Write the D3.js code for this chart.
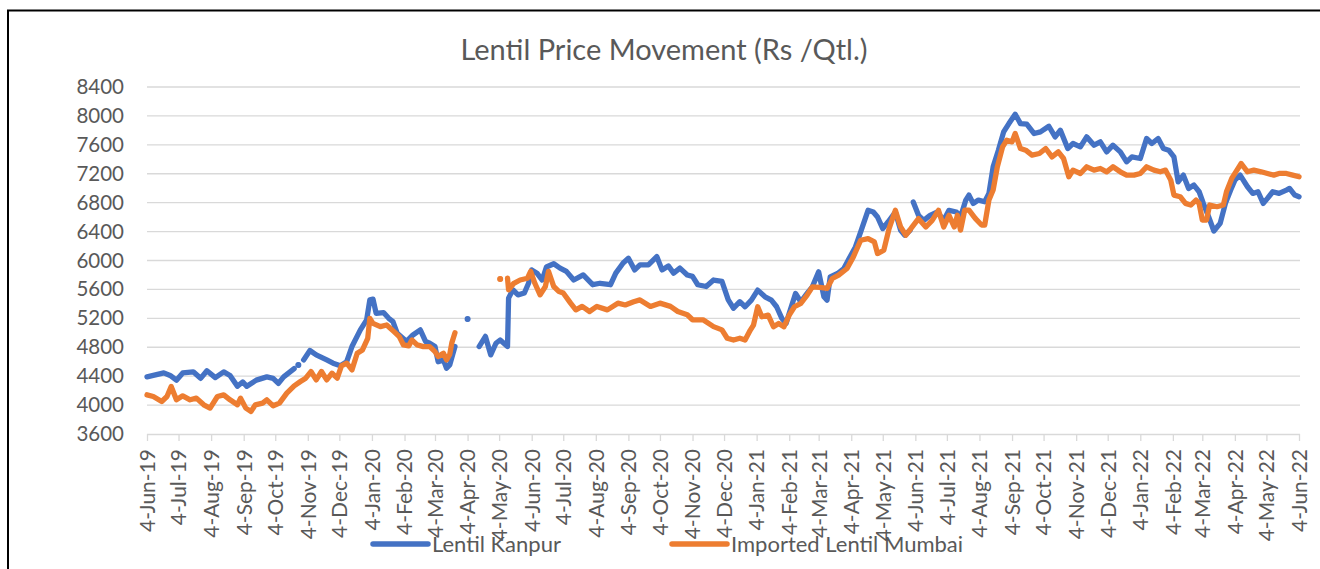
<!DOCTYPE html>
<html><head><meta charset="utf-8">
<script src="https://cdn.jsdelivr.net/npm/d3@7"></script>
<style>
html,body{margin:0;padding:0;background:#fff;}
svg{display:block;}
text{font-family:Lato,"Open Sans",sans-serif;fill:#595959;}
</style></head>
<body>
<svg id="chart" width="1320" height="569"></svg>
<script>
const title = "Lentil Price Movement (Rs /Qtl.)";
const seriesNames = ["Lentil Kanpur", "Imported Lentil Mumbai"];
const yTicks = [3600,4000,4400,4800,5200,5600,6000,6400,6800,7200,7600,8000,8400];
const xTickDates = ["2019-06-04","2019-07-04","2019-08-04","2019-09-04","2019-10-04","2019-11-04","2019-12-04",
 "2020-01-04","2020-02-04","2020-03-04","2020-04-04","2020-05-04","2020-06-04","2020-07-04","2020-08-04","2020-09-04","2020-10-04","2020-11-04","2020-12-04",
 "2021-01-04","2021-02-04","2021-03-04","2021-04-04","2021-05-04","2021-06-04","2021-07-04","2021-08-04","2021-09-04","2021-10-04","2021-11-04","2021-12-04",
 "2022-01-04","2022-02-04","2022-03-04","2022-04-04","2022-05-04","2022-06-04"];

const kanpurDates = ["2019-06-04","2019-06-10","2019-06-20","2019-06-26","2019-07-02","2019-07-08","2019-07-18","2019-07-25","2019-07-31","2019-08-08","2019-08-16","2019-08-22","2019-08-29","2019-09-03","2019-09-07","2019-09-16","2019-09-26","2019-10-02","2019-10-07","2019-10-12","2019-10-22","2019-10-24","2019-10-26","2019-10-28","2019-10-31","2019-11-06","2019-11-12","2019-11-22","2019-11-28","2019-12-05","2019-12-11","2019-12-16","2019-12-24","2019-12-30",
"2020-01-02","2020-01-05","2020-01-08","2020-01-15","2020-01-20","2020-01-24","2020-01-28","2020-02-06","2020-02-12","2020-02-19","2020-02-24","2020-02-28","2020-03-04","2020-03-07","2020-03-12","2020-03-15","2020-03-18","2020-03-23","2020-03-28","2020-04-04","2020-04-09","2020-04-15","2020-04-21","2020-04-26","2020-05-01","2020-05-05","2020-05-12","2020-05-13","2020-05-17","2020-05-22","2020-05-28","2020-06-01","2020-06-04","2020-06-09","2020-06-14","2020-06-18","2020-06-25","2020-07-01","2020-07-07","2020-07-14","2020-07-23","2020-08-01","2020-08-08","2020-08-18","2020-08-23","2020-08-30","2020-09-04","2020-09-10","2020-09-15","2020-09-23","2020-10-01","2020-10-06","2020-10-12","2020-10-17","2020-10-23","2020-10-30","2020-11-04","2020-11-09","2020-11-17","2020-11-24","2020-12-02","2020-12-08","2020-12-13","2020-12-19","2020-12-24","2020-12-30",
"2021-01-05","2021-01-12","2021-01-18","2021-01-23","2021-01-28","2021-02-01","2021-02-05","2021-02-10","2021-02-15","2021-02-21","2021-02-26","2021-03-04","2021-03-09","2021-03-12","2021-03-15","2021-03-22","2021-03-28","2021-04-02","2021-04-08","2021-04-13","2021-04-20","2021-04-25","2021-04-29","2021-05-04","2021-05-09","2021-05-16","2021-05-21","2021-05-25","2021-05-30","2021-05-31","2021-06-02","2021-06-07","2021-06-12","2021-06-18","2021-06-25","2021-07-01","2021-07-06","2021-07-13","2021-07-17","2021-07-22","2021-07-25","2021-07-29","2021-08-03","2021-08-09","2021-08-13","2021-08-17","2021-08-22","2021-08-27","2021-09-01","2021-09-07","2021-09-12","2021-09-18","2021-09-25","2021-10-01","2021-10-09","2021-10-15","2021-10-20","2021-10-27","2021-11-01","2021-11-08","2021-11-14","2021-11-21","2021-11-27","2021-12-03","2021-12-09","2021-12-16","2021-12-22","2021-12-27",
"2022-01-04","2022-01-10","2022-01-15","2022-01-21","2022-01-26","2022-01-31","2022-02-05","2022-02-09","2022-02-14","2022-02-19","2022-02-24","2022-03-01","2022-03-05","2022-03-10","2022-03-15","2022-03-21","2022-03-26","2022-03-31","2022-04-04","2022-04-09","2022-04-16","2022-04-21","2022-04-26","2022-05-01","2022-05-05","2022-05-10","2022-05-16","2022-05-23","2022-05-26","2022-05-31","2022-06-04"];
const kanpurValues = [4390,4410,4445,4410,4345,4445,4460,4370,4475,4380,4460,4410,4260,4320,4260,4345,4390,4370,4300,4390,4505,null,4555,null,4625,4755,4695,4625,4580,4545,4600,4810,5040,5180,
5455,5465,5270,5280,5200,5155,4995,4880,4970,5040,4880,4855,4810,4600,4625,4510,4555,4810,null,5190,null,4810,4950,4695,4855,4900,4810,5480,5595,5525,5550,5685,5870,5825,5730,5910,5955,5895,5850,5730,5800,5665,5685,5665,5825,5965,6030,5870,5940,5940,6055,5870,5925,5825,5895,5800,5780,5665,5640,5730,5710,5455,5340,5430,5360,5452,
5590,5498,5452,5360,5200,5130,5314,5544,5429,5544,5636,5843,5498,5452,5774,5820,5889,6027,6188,6395,6694,6671,6602,6441,6533,6671,6418,6349,6418,null,6809,6625,6556,6625,6671,6556,6694,6671,6600,6836,6905,6790,6836,6813,6928,7296,7526,7779,7894,8023,7894,7885,7756,7779,7857,7710,7802,7549,7618,7572,7710,7595,7641,7503,7595,7503,7365,7434,
7411,7687,7618,7687,7549,7526,7434,7089,7181,6997,7043,6951,6790,6606,6408,6514,6790,6974,7112,7181,7020,6928,6951,6790,6859,6951,6928,6974,6997,6905,6882];

const mumbaiDates = ["2019-06-04","2019-06-10","2019-06-18","2019-06-23","2019-06-27","2019-07-02","2019-07-08","2019-07-15","2019-07-21","2019-07-28","2019-08-03","2019-08-10","2019-08-16","2019-08-22","2019-08-29","2019-09-01","2019-09-06","2019-09-11","2019-09-15","2019-09-22","2019-09-26","2019-10-02","2019-10-08","2019-10-15","2019-10-22","2019-10-28","2019-11-02","2019-11-07","2019-11-12","2019-11-17","2019-11-22","2019-11-27","2019-12-02","2019-12-06","2019-12-11","2019-12-16","2019-12-21","2019-12-26","2019-12-31",
"2020-01-02","2020-01-05","2020-01-12","2020-01-18","2020-01-25","2020-01-30","2020-02-03","2020-02-08","2020-02-11","2020-02-16","2020-02-22","2020-02-28","2020-03-04","2020-03-07","2020-03-12","2020-03-15","2020-03-18","2020-03-20","2020-03-23","2020-03-28","2020-05-05","2020-05-09","2020-05-12","2020-05-13","2020-05-18","2020-05-24","2020-05-31","2020-06-03","2020-06-07","2020-06-12","2020-06-17","2020-06-20","2020-06-25","2020-06-30","2020-07-04","2020-07-11","2020-07-16","2020-07-22","2020-07-29","2020-08-05","2020-08-15","2020-08-25","2020-09-01","2020-09-09","2020-09-15","2020-09-25","2020-10-04","2020-10-14","2020-10-21","2020-10-30","2020-11-04","2020-11-14","2020-11-24","2020-12-02","2020-12-07","2020-12-13","2020-12-19","2020-12-24","2020-12-29",
"2021-01-01","2021-01-05","2021-01-09","2021-01-15","2021-01-20","2021-01-25","2021-01-30","2021-02-04","2021-02-09","2021-02-15","2021-02-21","2021-02-26","2021-03-05","2021-03-12","2021-03-17","2021-03-23","2021-03-31","2021-04-06","2021-04-13","2021-04-20","2021-04-26","2021-04-29","2021-05-05","2021-05-10","2021-05-16","2021-05-21","2021-05-26","2021-06-01","2021-06-07","2021-06-14","2021-06-20","2021-06-26","2021-07-01","2021-07-06","2021-07-11","2021-07-14","2021-07-17","2021-07-21","2021-07-25","2021-07-31","2021-08-06","2021-08-09","2021-08-13","2021-08-17","2021-08-21","2021-08-26","2021-08-30","2021-09-04","2021-09-07","2021-09-12","2021-09-17","2021-09-23","2021-09-30","2021-10-06","2021-10-12","2021-10-18","2021-10-23","2021-10-28","2021-11-01","2021-11-08","2021-11-14","2021-11-21","2021-11-27","2021-12-03","2021-12-09","2021-12-16","2021-12-22","2021-12-29",
"2022-01-04","2022-01-10","2022-01-17","2022-01-23","2022-01-28","2022-02-02","2022-02-05","2022-02-11","2022-02-16","2022-02-21","2022-02-26","2022-03-01","2022-03-04","2022-03-08","2022-03-11","2022-03-18","2022-03-24","2022-03-27","2022-04-01","2022-04-06","2022-04-10","2022-04-16","2022-04-22","2022-04-29","2022-05-05","2022-05-11","2022-05-16","2022-05-23","2022-05-29","2022-06-04"];
const mumbaiValues = [4142,4119,4050,4119,4257,4073,4128,4073,4096,4004,3958,4119,4142,4073,4004,4096,3958,3912,4004,4027,4073,3990,4027,4165,4266,4326,4372,4464,4349,4464,4349,4441,4372,4542,4579,4487,4717,4763,4924,
5200,5131,5085,5108,5016,4947,4832,4818,4901,4832,4809,4809,4740,4671,4717,4625,4700,4860,5000,null,5745,null,5755,5595,5685,5730,5755,5850,5685,5525,5640,5850,5640,5570,5550,5410,5317,5365,5295,5365,5317,5410,5385,5430,5455,5365,5410,5365,5295,5250,5180,5180,5085,5040,4925,4900,4925,4900,5038,
5107,5360,5222,5245,5084,5130,5084,5245,5360,5406,5521,5636,5627,5613,5751,5797,5889,6050,6280,6303,6257,6096,6142,6441,6694,6464,6349,6464,6579,6464,6556,6694,6464,6625,6464,6625,6420,6698,6698,6583,6491,6491,6836,6974,7296,7572,7664,7641,7756,7549,7526,7457,7480,7549,7434,7503,7411,7158,7250,7204,7296,7250,7273,7227,7296,7227,7181,7181,
7204,7296,7250,7227,7250,7112,6905,6882,6790,6767,6836,6790,6560,6560,6767,6744,6767,6951,7135,7250,7342,7227,7250,7227,7204,7181,7204,7204,7181,7158];

const colors = ["#4472C4", "#ED7D31"];

const parse = d3.timeParse("%Y-%m-%d");
const svg = d3.select("#chart");

// outer frame
svg.append("rect").attr("x", 8).attr("y", 10.5).attr("width", 1330).attr("height", 600)
  .attr("fill", "none").attr("stroke", "#000").attr("stroke-width", 2);

const x = d3.scaleTime().domain([parse(xTickDates[0]), parse(xTickDates[xTickDates.length - 1])]).range([147, 1299]);
const y = d3.scaleLinear().domain([3600, 8400]).range([434, 87]);

// gridlines
svg.append("g").selectAll("line").data(yTicks.slice(1)).join("line")
  .attr("x1", 147).attr("x2", 1300)
  .attr("y1", d => y(d)).attr("y2", d => y(d))
  .attr("stroke", "#d9d9d9").attr("stroke-width", 1.3);

// y labels
const yAxis = svg.append("g").attr("transform", "translate(147,0)")
  .call(d3.axisLeft(y).tickValues(yTicks).tickSize(0).tickPadding(23).tickFormat(d3.format("d")));
yAxis.select(".domain").remove();
yAxis.selectAll("text").style("font-size", "20.5px").style("font-family", "Lato").attr("fill", "#595959");

// x axis
const xAxis = svg.append("g").attr("transform", "translate(0,434)")
  .call(d3.axisBottom(x).tickValues(xTickDates.map(parse)).tickSize(7).tickFormat(d3.timeFormat("%-d-%b-%y")));
xAxis.select(".domain").attr("stroke", "#d9d9d9").attr("stroke-width", 1.3).attr("d", "M147,0.5H1300");
xAxis.selectAll(".tick line").attr("stroke", "#d9d9d9").attr("stroke-width", 1.3);
xAxis.selectAll("text")
  .style("font-size", "21px").style("font-family", "Lato").attr("fill", "#595959")
  .attr("transform", "rotate(-90)").attr("text-anchor", "end")
  .attr("x", -15).attr("y", 0).attr("dy", "0.35em");

// series
const series = [
  {dates: kanpurDates, values: kanpurValues, color: colors[0]},
  {dates: mumbaiDates, values: mumbaiValues, color: colors[1]}
];
const line = d3.line().defined(d => d.v !== null).x(d => x(d.d)).y(d => y(d.v));
series.forEach(s => {
  const pts = s.dates.map((d, i) => ({d: parse(d), v: s.values[i]}));
  svg.append("path").datum(pts).attr("d", line)
    .attr("fill", "none").attr("stroke", s.color).attr("stroke-width", 5.3)
    .attr("stroke-linejoin", "round").attr("stroke-linecap", "round");
  const iso = pts.filter((p, i) => p.v !== null && (i === 0 || pts[i-1].v === null) && (i === pts.length-1 || pts[i+1].v === null));
  svg.append("g").selectAll("circle").data(iso).join("circle")
    .attr("cx", p => x(p.d)).attr("cy", p => y(p.v)).attr("r", 3).attr("fill", s.color);
});

// title
svg.append("text").attr("x", 664).attr("y", 60).attr("text-anchor", "middle")
  .style("font-size", "29px").text(title);

// legend
const legendX = [373, 672];
seriesNames.forEach((n, i) => {
  svg.append("line").attr("x1", legendX[i]).attr("x2", legendX[i] + 55).attr("y1", 544).attr("y2", 544)
    .attr("stroke", colors[i]).attr("stroke-width", 5.5).attr("stroke-linecap", "round");
  svg.append("text").attr("x", legendX[i] + 59).attr("y", 552).style("font-size", "22px").text(n);
});
</script>
</body></html>
